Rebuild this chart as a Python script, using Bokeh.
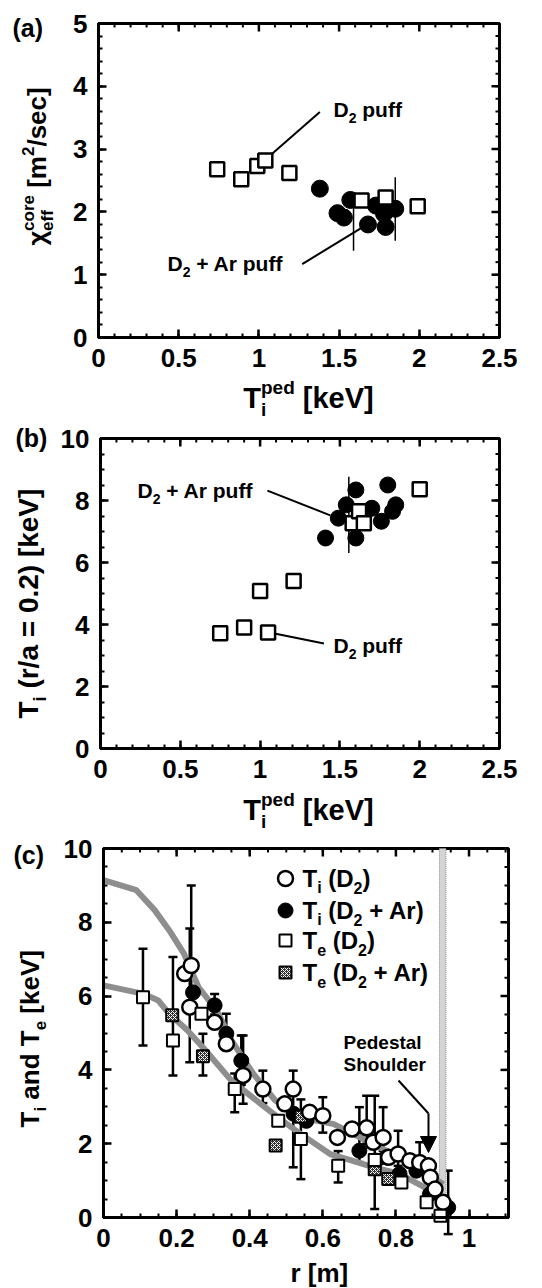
import math
import numpy as np
from bokeh.plotting import figure
from bokeh.models import (Range1d, FixedTicker, LinearAxis, Label, Whisker,
                          ColumnDataSource, TeeHead, Arrow, NormalHead)
from bokeh.layouts import column
from bokeh.embed import file_html
from bokeh.resources import INLINE

# ---------------- data ----------------
# panel (a): chi_eff^core vs Ti^ped
a_d2_x = [0.74, 0.89, 0.99, 1.04, 1.19, 1.64, 1.79, 1.99]
a_d2_y = [2.68, 2.52, 2.73, 2.82, 2.62, 2.18, 2.23, 2.09]
a_ar_x = [1.38, 1.49, 1.53, 1.57, 1.68, 1.73, 1.78, 1.79, 1.85]
a_ar_y = [2.37, 1.98, 1.91, 2.19, 1.80, 2.10, 1.97, 1.76, 2.05]
a_err_x = [1.59, 1.85]
a_err_lo = [1.38, 1.54]
a_err_hi = [2.07, 2.55]

# panel (b): Ti(r/a=0.2) vs Ti^ped
b_d2_x = [0.75, 0.90, 1.05, 1.00, 1.21, 1.58, 1.62, 1.65, 2.00]
b_d2_y = [3.72, 3.90, 3.74, 5.08, 5.40, 7.27, 7.65, 7.27, 8.36]
b_ar_x = [1.41, 1.49, 1.54, 1.60, 1.60, 1.70, 1.76, 1.80, 1.83, 1.85]
b_ar_y = [6.79, 7.43, 7.86, 8.34, 6.79, 7.75, 7.33, 8.50, 7.65, 7.86]
b_err_x = [1.556]
b_err_lo = [6.31]
b_err_hi = [8.77]

# panel (c): profiles
ti_d2_r = [0.222, 0.240, 0.236, 0.304, 0.336, 0.382, 0.436, 0.496, 0.519, 0.564,
           0.600, 0.640, 0.680, 0.720, 0.738, 0.765, 0.780, 0.806, 0.838, 0.865,
           0.889, 0.894, 0.907, 0.929]
ti_d2_t = [6.61, 6.83, 5.70, 5.29, 4.71, 3.85, 3.48, 3.08, 3.48, 2.85,
           2.76, 2.17, 2.40, 2.43, 2.04, 2.17, 1.63, 1.72, 1.54, 1.49,
           1.40, 1.09, 0.77, 0.41]
ti_ar_r = [0.245, 0.304, 0.336, 0.377, 0.520, 0.555, 0.700, 0.746, 0.774, 0.810,
           0.856, 0.893, 0.943]
ti_ar_t = [6.10, 5.75, 4.98, 4.25, 2.81, 2.62, 1.81, 1.54, 1.63, 1.18,
           1.27, 0.63, 0.27]
te_d2_r = [0.108, 0.190, 0.268, 0.359, 0.478, 0.540, 0.642, 0.742, 0.815, 0.884, 0.922]
te_d2_t = [5.97, 4.80, 5.52, 3.48, 2.62, 2.13, 1.40, 1.56, 0.95, 0.41, 0.05]
te_ar_r = [0.188, 0.272, 0.471, 0.540, 0.742, 0.779]
te_ar_t = [5.48, 4.37, 1.95, 2.73, 1.31, 1.04]

c_err_r = [0.108, 0.190, 0.240, 0.236, 0.272, 0.304, 0.336, 0.359, 0.377, 0.382,
           0.436, 0.519, 0.540, 0.600, 0.642, 0.700, 0.720, 0.742, 0.765, 0.806,
           0.865, 0.943]
c_err_lo = [4.66, 3.85, 6.00, 4.21, 3.85, 5.50, 4.60, 2.85, 3.60, 3.08,
            3.10, 1.36, 1.04, 2.30, 0.95, 1.50, 2.00, 0.23, 1.80, 1.40,
            1.20, -0.45]
c_err_hi = [7.28, 7.06, 9.00, 7.83, 4.98, 6.06, 5.52, 3.90, 4.93, 4.93,
            3.98, 3.98, 3.20, 3.26, 1.80, 2.99, 3.30, 3.30, 2.99, 2.35,
            2.04, 1.27]

ti_prof_r = [0, 0.09, 0.14, 0.18, 0.22, 0.26, 0.31, 0.35, 0.41, 0.47, 0.54, 0.63,
             0.72, 0.81, 0.90, 0.93]
ti_prof_t = [9.14, 8.87, 8.33, 7.78, 7.15, 6.24, 5.61, 4.80, 3.89, 3.17, 2.71, 2.53,
             2.08, 1.63, 1.09, 0.90]
te_prof_r = [0, 0.11, 0.15, 0.18, 0.23, 0.28, 0.35, 0.43, 0.49, 0.54, 0.62, 0.68,
             0.74, 0.81, 0.88, 0.92]
te_prof_t = [6.29, 6.06, 5.88, 5.52, 5.07, 4.52, 3.71, 3.08, 2.62, 2.26, 1.72, 1.54,
             1.36, 1.18, 0.81, 0.45]
sep_lo, sep_hi = 0.919, 0.937

# ticks
ab_xticks = [0, 0.5, 1, 1.5, 2, 2.5]
ab_xlabels = ["0", "0.5", "1", "1.5", "2", "2.5"]
a_yticks = [0, 1, 2, 3, 4, 5]
b_yticks = [0, 2, 4, 6, 8, 10]
c_xticks = [0, 0.2, 0.4, 0.6, 0.8, 1]
c_xlabels = ["0", "0.2", "0.4", "0.6", "0.8", "1"]
c_xmax = 1.108
c_yticks = [0, 2, 4, 6, 8, 10]

# ---------------- helpers ----------------
FONT = "Liberation Sans"
CW = 542
BASE_CORR = 0.34   # lifts Bokeh's text anchor onto the wanted baseline
W = {' ': 0.278, '(': 0.333, ')': 0.333, '[': 0.333, ']': 0.333, '/': 0.278,
     '.': 0.278, '=': 0.584, '+': 0.584, 'A': 0.722, 'D': 0.722, 'P': 0.667,
     'S': 0.667, 'T': 0.611, 'V': 0.667, 'a': 0.556, 'c': 0.556, 'd': 0.611,
     'e': 0.556, 'f': 0.333, 'h': 0.611, 'i': 0.278, 'k': 0.556, 'l': 0.278,
     'm': 0.889, 'n': 0.611, 'o': 0.611, 'p': 0.611, 'r': 0.389, 's': 0.556,
     't': 0.333, 'u': 0.611, 'χ': 0.56}
for _d in "0123456789":
    W[_d] = 0.556


def tw(s, size):
    return sum(W.get(ch, 0.6) for ch in s) * size


class Frame:
    """Maps page pixels to data units for one panel (box = plotting box)."""
    def __init__(self, box, xr, yr):
        self.L, self.T, self.R, self.B = box
        self.xr, self.yr = xr, yr
        self.ppx = (self.R - self.L) / (xr[1] - xr[0])
        self.ppy = (self.B - self.T) / (yr[1] - yr[0])

    def data(self, px, py):
        return (self.xr[0] + (px - self.L) / self.ppx,
                self.yr[0] + (self.B - py) / self.ppy)


def rich(p, fr, px, py, segs, size, vertical=False, align="left"):
    small = round(size * 0.66)
    pieces = []
    cur = 0.0
    for seg in segs:
        kind = seg[0]
        if kind == "n":
            pieces.append((seg[1], size, 0.0, cur))
            cur += tw(seg[1], size)
        elif kind == "sub":
            pieces.append((seg[1], small, 0.28 * size, cur))
            cur += tw(seg[1], small)
        elif kind == "sup":
            pieces.append((seg[1], small, -0.45 * size, cur))
            cur += tw(seg[1], small)
        elif kind == "subsup":
            pieces.append((seg[1], small, 0.28 * size, cur))
            pieces.append((seg[2], small, -0.45 * size, cur))
            cur += max(tw(seg[1], small), tw(seg[2], small))
    start = -cur / 2 if align == "center" else 0.0
    for t, s, shift, off in pieces:
        stripped = t.lstrip(" ")
        off += tw(t[:len(t) - len(stripped)], s)
        t = stripped.rstrip(" ")
        if not t:
            continue
        shift -= BASE_CORR * s
        if vertical:
            qx, qy = px + shift, py - (start + off)
        else:
            qx, qy = px + start + off, py + shift
        x, y = fr.data(qx, qy)
        p.add_layout(Label(x=x, y=y, text=t, text_font=FONT, text_font_style="bold",
                           text_font_size=f"{s}px", text_baseline="alphabetic",
                           text_align="left", text_color="black",
                           angle=math.pi / 2 if vertical else 0))


def make_fig(ct, cb, box, xr, yr, xt, xminor, yt, yminor, xlab):
    fr = Frame(box, xr, yr)
    xs = xr[0] - fr.L / fr.ppx
    xe = xr[1] + (CW - fr.R) / fr.ppx
    ys = yr[0] - (cb - fr.B) / fr.ppy
    ye = yr[1] + (fr.T - ct) / fr.ppy
    p = figure(width=CW, height=cb - ct, min_border=0, title=None,
               x_range=Range1d(xs, xe), y_range=Range1d(ys, ye),
               x_axis_location=None, y_axis_location=None,
               output_backend="svg", toolbar_location=None, tools="")
    p.grid.visible = False
    p.outline_line_color = None
    p.background_fill_color = "white"
    p.border_fill_color = "white"
    xtk = FixedTicker(ticks=xt, minor_ticks=list(xminor))
    ytk = FixedTicker(ticks=yt, minor_ticks=list(yminor))
    xa = LinearAxis(ticker=xtk, fixed_location=yr[0], bounds=tuple(xr))
    ya = LinearAxis(ticker=ytk, fixed_location=xr[0], bounds=tuple(yr))
    p.add_layout(xa, "below")
    p.add_layout(ya, "left")
    for ax in (xa, ya):
        ax.axis_line_width = 3
        ax.major_tick_in = 8
        ax.major_tick_out = 0
        ax.minor_tick_in = 4
        ax.minor_tick_out = 0
        ax.major_tick_line_width = 2.5
        ax.minor_tick_line_width = 2
        ax.major_label_text_font = FONT
        ax.major_label_text_font_style = "bold"
        ax.major_label_text_font_size = "26px"
        ax.major_label_text_color = "black"
        ax.major_label_standoff = 11
    xa.major_label_overrides = {t: l for t, l in zip(xt, xlab)}
    # plotting box
    p.quad(left=[xr[0]], right=[xr[1]], bottom=[yr[0]], top=[yr[1]],
           fill_color=None, line_color="black", line_width=3)
    # inward ticks on the top and right edges
    for ticks, ln, lw in ((xt, 8, 2.5), (list(xminor), 4, 2)):
        tt = [t for t in ticks if xr[0] < t < xr[1]]
        p.segment(x0=tt, y0=[yr[1]] * len(tt), x1=tt, y1=[yr[1] - ln / fr.ppy] * len(tt),
                  line_color="black", line_width=lw)
    for ticks, ln, lw in ((yt, 8, 2.5), (list(yminor), 4, 2)):
        tt = [t for t in ticks if yr[0] < t < yr[1]]
        p.segment(x0=[xr[1]] * len(tt), y0=tt, x1=[xr[1] - ln / fr.ppx] * len(tt), y1=tt,
                  line_color="black", line_width=lw)
    return p, fr


def puff(p, fr, px, py, with_ar):
    if with_ar:
        segs = [("n", "D"), ("sub", "2"), ("n", " + Ar puff")]
    else:
        segs = [("n", "D"), ("sub", "2"), ("n", " puff")]
    rich(p, fr, px, py, segs, 21)


XLAB_TI = [("n", "T"), ("subsup", "i", "ped"), ("n", " [keV]")]
SPLIT_AB, SPLIT_BC = 421, 835

# ---------------- panel (a) ----------------
pa, fa = make_fig(0, SPLIT_AB, (98, 23, 499, 337), (0, 2.5), (a_yticks[0], a_yticks[-1]),
                  ab_xticks, np.arange(0, 2.51, 0.1), a_yticks, np.arange(0, 5.01, 0.2),
                  ab_xlabels)
pa.segment(x0=a_err_x, y0=a_err_lo, x1=a_err_x, y1=a_err_hi, line_color="black", line_width=1.5)
pa.line([1.38, 1.07], [3.59, 2.90], line_color="black", line_width=2)
pa.line([1.27, 1.65], [1.17, 1.76], line_color="black", line_width=2)
pa.scatter(a_ar_x, a_ar_y, marker="circle", size=17, fill_color="black", line_color="black")
pa.scatter(a_d2_x, a_d2_y, marker="square", size=14, fill_color="white",
           line_color="black", line_width=2.5)
rich(pa, fa, 12, 36, [("n", "(a)")], 25)
rich(pa, fa, 308, 407, XLAB_TI, 29, align="center")
rich(pa, fa, 45, 245, [("n", "χ"), ("subsup", "eff", "core"), ("n", " [m"),
                       ("sup", "2"), ("n", "/sec]")], 26, vertical=True)
puff(pa, fa, 333, 116, False)
puff(pa, fa, 167, 270, True)

# ---------------- panel (b) ----------------
pb, fb = make_fig(SPLIT_AB, SPLIT_BC, (100, 438, 499, 748), (0, 2.5), (b_yticks[0], b_yticks[-1]),
                  ab_xticks, np.arange(0, 2.51, 0.1), b_yticks, np.arange(0, 10.01, 0.5),
                  ab_xlabels)
pb.segment(x0=b_err_x, y0=b_err_lo, x1=b_err_x, y1=b_err_hi, line_color="black", line_width=1.5)
pb.line([1.046, 1.44], [8.32, 7.52], line_color="black", line_width=2)
pb.line([1.09, 1.40], [3.71, 3.39], line_color="black", line_width=2)
pb.scatter(b_ar_x, b_ar_y, marker="circle", size=16, fill_color="black", line_color="black")
pb.scatter(b_d2_x, b_d2_y, marker="square", size=14, fill_color="white",
           line_color="black", line_width=2.5)
rich(pb, fb, 15, 446, [("n", "(b)")], 25)
rich(pb, fb, 308, 819, XLAB_TI, 29, align="center")
rich(pb, fb, 38, 718, [("n", "T"), ("sub", "i"), ("n", " (r/a = 0.2) [keV]")], 28, vertical=True)
puff(pb, fb, 137, 497, True)
puff(pb, fb, 333, 652, False)

# ---------------- panel (c) ----------------
pc, fc = make_fig(SPLIT_BC, 1288, (103, 848, 508, 1217), (0, c_xmax), (c_yticks[0], c_yticks[-1]),
                  c_xticks, np.arange(0, 1.11, 0.05), c_yticks, np.arange(0, 10.01, 0.5),
                  c_xlabels)
pc.quad(left=[sep_lo], right=[sep_hi], bottom=[c_yticks[0]], top=[c_yticks[-1]],
        fill_color="#d4d4d4", line_color="#8a8a8a", line_dash="1 1", line_width=1)
pc.line(ti_prof_r, ti_prof_t, line_color="#8e8e8e", line_width=6)
pc.line(te_prof_r, te_prof_t, line_color="#8e8e8e", line_width=6)
csrc = ColumnDataSource(dict(r=c_err_r, lo=c_err_lo, hi=c_err_hi))
pc.add_layout(Whisker(base="r", lower="lo", upper="hi", source=csrc, dimension="height",
                      line_width=2.5, line_color="black",
                      upper_head=TeeHead(size=9, line_width=2.5),
                      lower_head=TeeHead(size=9, line_width=2.5)))
pc.scatter(ti_ar_r, ti_ar_t, marker="circle", size=15, fill_color="black", line_color="black")
pc.scatter(te_ar_r, te_ar_t, marker="square", size=12, fill_color="#333333",
           line_color="black", line_width=2, hatch_pattern="diagonal_cross",
           hatch_color="white", hatch_scale=4, hatch_weight=1)
pc.scatter(ti_d2_r, ti_d2_t, marker="circle", size=15, fill_color="white",
           line_color="black", line_width=2.5)
pc.scatter(te_d2_r, te_d2_t, marker="square", size=12, fill_color="white",
           line_color="black", line_width=2)

# pedestal shoulder arrow
ax0, ay0 = fc.data(398, 1080)
ax1, ay1 = fc.data(428, 1113)
ax2, ay2 = fc.data(428, 1152)
pc.line([ax0, ax1], [ay0, ay1], line_color="black", line_width=2)
pc.add_layout(Arrow(end=NormalHead(size=16, fill_color="black", line_color="black"),
                    x_start=ax1, y_start=ay1, x_end=ax2, y_end=ay2,
                    line_color="black", line_width=2))
rich(pc, fc, 343, 1048, [("n", "Pedestal")], 19)
rich(pc, fc, 343, 1070, [("n", "Shoulder")], 19)

# legend
leg_rows = [878, 910, 940, 972]
lx, _ = fc.data(285, 0)
ly = [fc.data(0, r)[1] for r in leg_rows]
pc.scatter([lx], [ly[0]], marker="circle", size=15, fill_color="white", line_color="black", line_width=2.5)
pc.scatter([lx], [ly[1]], marker="circle", size=15, fill_color="black", line_color="black")
pc.scatter([lx], [ly[2]], marker="square", size=12, fill_color="white", line_color="black", line_width=2)
pc.scatter([lx], [ly[3]], marker="square", size=12, fill_color="#333333", line_color="black",
           line_width=2, hatch_pattern="diagonal_cross", hatch_color="white", hatch_scale=4,
           hatch_weight=1)
leg_txt = [
    [("n", "T"), ("sub", "i"), ("n", " (D"), ("sub", "2"), ("n", ")")],
    [("n", "T"), ("sub", "i"), ("n", " (D"), ("sub", "2"), ("n", " + Ar)")],
    [("n", "T"), ("sub", "e"), ("n", " (D"), ("sub", "2"), ("n", ")")],
    [("n", "T"), ("sub", "e"), ("n", " (D"), ("sub", "2"), ("n", " + Ar)")],
]
for row, segs in zip(leg_rows, leg_txt):
    rich(pc, fc, 302, row + 8, segs, 24)

rich(pc, fc, 13, 863, [("n", "(c)")], 25)
rich(pc, fc, 290, 1281, [("n", "r [m]")], 26)
rich(pc, fc, 38, 1127, [("n", "T"), ("sub", "i"), ("n", " and T"), ("sub", "e"),
                        ("n", " [keV]")], 26, vertical=True)

layout = column(pa, pb, pc, spacing=0)
open("out.html", "w").write(file_html(layout, INLINE))
